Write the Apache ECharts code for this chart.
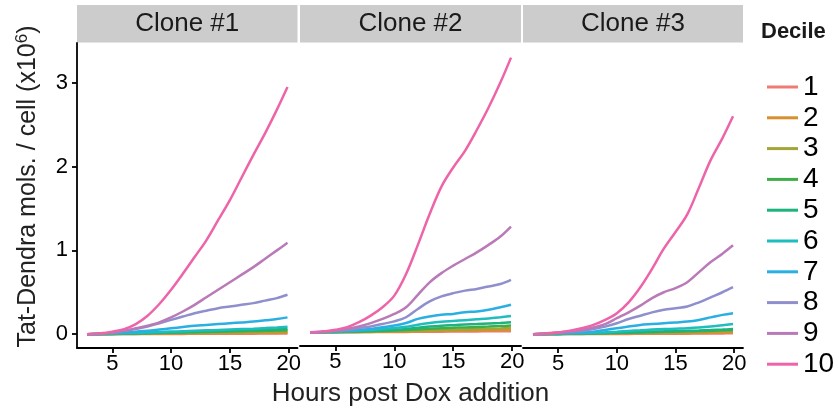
<!DOCTYPE html>
<html>
<head>
<meta charset="utf-8">
<script src="https://cdn.jsdelivr.net/npm/echarts@6/dist/echarts.min.js"></script>
<style>
html,body{margin:0;padding:0;background:#fff;}
#c{width:839px;height:412px;}
</style>
</head>
<body>
<div id="c"></div>
<script>
var hours = [2.85, 4, 5, 6, 7, 8, 9, 10, 11, 12, 13, 14, 15, 16, 17, 18, 19, 19.9];
var deciles = ['1','2','3','4','5','6','7','8','9','10'];
var clones = ['Clone #1','Clone #2','Clone #3'];
var xTicks = [5, 10, 15, 20];
var yTicks = [0, 1, 2, 3];
var colors = ['#F07A74','#D8902F','#A3A536','#3EAE4A','#1DB37C','#1EBDBE','#2AAFE3','#8E8FCC','#B97AB7','#EE64A8'];

var clone1 = [
  [0,0,0,0.001,0.001,0.002,0.002,0.003,0.003,0.004,0.004,0.005,0.005,0.006,0.006,0.007,0.007,0.008],
  [0,0,0.001,0.002,0.003,0.004,0.005,0.006,0.007,0.008,0.009,0.01,0.011,0.012,0.013,0.014,0.015,0.016],
  [0,0.001,0.002,0.004,0.006,0.008,0.01,0.012,0.014,0.016,0.018,0.02,0.022,0.024,0.026,0.028,0.03,0.032],
  [0,0.001,0.003,0.005,0.008,0.011,0.014,0.017,0.02,0.023,0.026,0.029,0.032,0.035,0.037,0.04,0.043,0.045],
  [0,0.002,0.004,0.007,0.01,0.014,0.018,0.022,0.026,0.03,0.034,0.038,0.042,0.046,0.05,0.054,0.058,0.062],
  [0,0.002,0.005,0.01,0.015,0.02,0.025,0.03,0.035,0.04,0.045,0.05,0.055,0.06,0.065,0.072,0.08,0.088],
  [0,0.003,0.01,0.02,0.03,0.04,0.055,0.07,0.085,0.1,0.11,0.12,0.13,0.14,0.15,0.165,0.18,0.2],
  [0,0.005,0.02,0.04,0.06,0.09,0.13,0.17,0.21,0.25,0.28,0.31,0.33,0.35,0.37,0.4,0.43,0.47],
  [0,0.005,0.02,0.04,0.07,0.1,0.14,0.2,0.27,0.35,0.44,0.53,0.62,0.71,0.8,0.9,1.0,1.09],
  [0,0.01,0.03,0.06,0.12,0.22,0.36,0.53,0.72,0.92,1.12,1.36,1.6,1.87,2.14,2.4,2.68,2.95]
];
var clone2 = [
  [0,0,0,0.001,0.001,0.002,0.002,0.003,0.004,0.005,0.006,0.007,0.008,0.009,0.01,0.011,0.012,0.013],
  [0,0,0.001,0.002,0.003,0.004,0.005,0.007,0.009,0.011,0.013,0.015,0.017,0.019,0.021,0.023,0.026,0.028],
  [0,0.001,0.002,0.003,0.005,0.007,0.009,0.012,0.015,0.019,0.023,0.027,0.03,0.034,0.037,0.041,0.045,0.05],
  [0,0.001,0.003,0.005,0.008,0.012,0.016,0.02,0.026,0.034,0.042,0.048,0.053,0.058,0.063,0.068,0.074,0.08],
  [0,0.002,0.004,0.008,0.013,0.018,0.024,0.03,0.04,0.055,0.068,0.078,0.085,0.092,0.098,0.105,0.112,0.12],
  [0,0.002,0.006,0.012,0.02,0.028,0.038,0.05,0.065,0.09,0.11,0.125,0.135,0.145,0.155,0.165,0.18,0.195],
  [0,0.003,0.01,0.02,0.03,0.04,0.06,0.08,0.11,0.16,0.19,0.21,0.22,0.24,0.25,0.27,0.3,0.33],
  [0,0.005,0.02,0.03,0.05,0.07,0.1,0.13,0.18,0.28,0.37,0.43,0.47,0.5,0.52,0.55,0.58,0.63],
  [0,0.005,0.02,0.04,0.07,0.11,0.16,0.22,0.3,0.45,0.6,0.71,0.8,0.88,0.96,1.05,1.15,1.27],
  [0,0.01,0.03,0.06,0.12,0.2,0.3,0.44,0.7,1.05,1.42,1.75,1.98,2.18,2.43,2.7,3.0,3.3]
];
var clone3 = [
  [0,0,0,0.001,0.001,0.002,0.002,0.003,0.003,0.004,0.004,0.005,0.005,0.006,0.007,0.008,0.009,0.01],
  [0,0,0.001,0.002,0.003,0.004,0.005,0.006,0.007,0.008,0.009,0.01,0.011,0.012,0.014,0.016,0.018,0.02],
  [0,0.001,0.002,0.004,0.006,0.008,0.01,0.012,0.014,0.017,0.02,0.022,0.024,0.026,0.029,0.032,0.036,0.04],
  [0,0.001,0.003,0.005,0.007,0.009,0.012,0.015,0.018,0.021,0.024,0.027,0.03,0.033,0.036,0.04,0.045,0.05],
  [0,0.001,0.003,0.005,0.008,0.011,0.014,0.018,0.022,0.026,0.03,0.033,0.036,0.039,0.043,0.048,0.054,0.06],
  [0,0.002,0.005,0.008,0.012,0.017,0.023,0.03,0.038,0.046,0.054,0.06,0.065,0.07,0.078,0.09,0.105,0.12],
  [0,0.003,0.01,0.015,0.02,0.03,0.05,0.07,0.09,0.11,0.12,0.13,0.14,0.15,0.17,0.2,0.23,0.25],
  [0,0.005,0.02,0.03,0.04,0.06,0.09,0.13,0.18,0.22,0.26,0.29,0.31,0.33,0.38,0.44,0.5,0.56],
  [0,0.005,0.02,0.03,0.05,0.08,0.12,0.19,0.26,0.34,0.43,0.5,0.55,0.62,0.74,0.86,0.96,1.06],
  [0,0.01,0.02,0.04,0.07,0.11,0.17,0.25,0.38,0.56,0.78,1.02,1.22,1.43,1.75,2.08,2.34,2.6]
];
var cloneData = [clone1, clone2, clone3];

var FONT = "'Liberation Sans', Arial, Helvetica, sans-serif";
var TXT = '#000';
var panels = [{left:77, width:220.5}, {left:300, width:221}, {left:523, width:220}];
var gridTop = 43, gridH = 305;
var yMin = -0.1655, yMax = 3.4755, xMin = 2.0, xMax = 20.75;

var grids = [], xAxes = [], yAxes = [], series = [], graphics = [];
panels.forEach(function(p, i){
  grids.push({left:p.left, top:gridTop, width:p.width, height:gridH, containLabel:false});
  xAxes.push({
    type:'value', gridIndex:i, min:xMin, max:xMax,
    axisLine:{show:true, onZero:false, lineStyle:{color:'#000', width:1.8}},
    axisTick:{show:true, length:5, customValues:xTicks, lineStyle:{color:'#000', width:1.8}},
    axisLabel:{customValues:xTicks, color:TXT, fontSize:22, fontFamily:FONT, margin:5},
    splitLine:{show:false},
    name: i === 1 ? 'Hours post Dox addition' : '',
    nameLocation:'middle', nameGap:35,
    nameTextStyle:{fontSize:26, color:'#222', fontFamily:FONT}
  });
  yAxes.push({
    type:'value', gridIndex:i, min:yMin, max:yMax, show: i === 0,
    axisLine:{show:true, onZero:false, lineStyle:{color:'#000', width:1.8}},
    axisTick:{show:true, length:5, customValues:yTicks, lineStyle:{color:'#000', width:1.8}},
    axisLabel:{customValues:yTicks, color:TXT, fontSize:22, fontFamily:FONT, margin:9},
    splitLine:{show:false},
    name: i === 0 ? '{a|Tat-Dendra mols. / cell (x10}{s|6}{a|)}' : '',
    nameLocation:'middle', nameGap:35, nameRotate:90,
    nameTextStyle:{fontFamily:FONT, color:'#222', padding:[0,0,0,18],
      rich:{a:{fontSize:25, fontFamily:FONT, color:'#222', lineHeight:28},
            s:{fontSize:17, fontFamily:FONT, color:'#222', verticalAlign:'top', lineHeight:28}}}
  });
  graphics.push({type:'rect', shape:{x:p.left, y:5, width:p.width, height:37.5}, style:{fill:'#cccccc'}, silent:true});
  graphics.push({type:'text', x:p.left + p.width/2, y:24, style:{text:clones[i], fontSize:26, fontFamily:FONT, fill:'#1a1a1a', align:'center', verticalAlign:'middle'}, silent:true});
  deciles.forEach(function(d, k){
    series.push({
      name:d, type:'line', xAxisIndex:i, yAxisIndex:i,
      data: hours.map(function(h, j){ return [h, cloneData[i][k][j]]; }),
      smooth:0.35, symbol:'none', showSymbol:false,
      lineStyle:{width:2.5, color:colors[k]}, itemStyle:{color:colors[k]},
      emphasis:{disabled:true}, z: 2 + k
    });
  });
});
graphics.push({type:'text', x:761, y:31.5, style:{text:'Decile', fontSize:22, fontWeight:'bold', fontFamily:FONT, fill:'#1a1a1a', align:'left', verticalAlign:'middle'}, silent:true});

var chart = echarts.init(document.getElementById('c'), null, {renderer:'canvas'});
chart.setOption({
  animation:false,
  color:colors,
  grid:grids, xAxis:xAxes, yAxis:yAxes, series:series,
  legend:{
    data:deciles, orient:'vertical', left:762, top:68,
    icon:'rect', itemWidth:31, itemHeight:3, itemGap:2.8,
    textStyle:{fontSize:28, lineHeight:28, color:TXT, fontFamily:FONT},
    selectedMode:false
  },
  graphic:graphics
});
</script>
</body>
</html>
